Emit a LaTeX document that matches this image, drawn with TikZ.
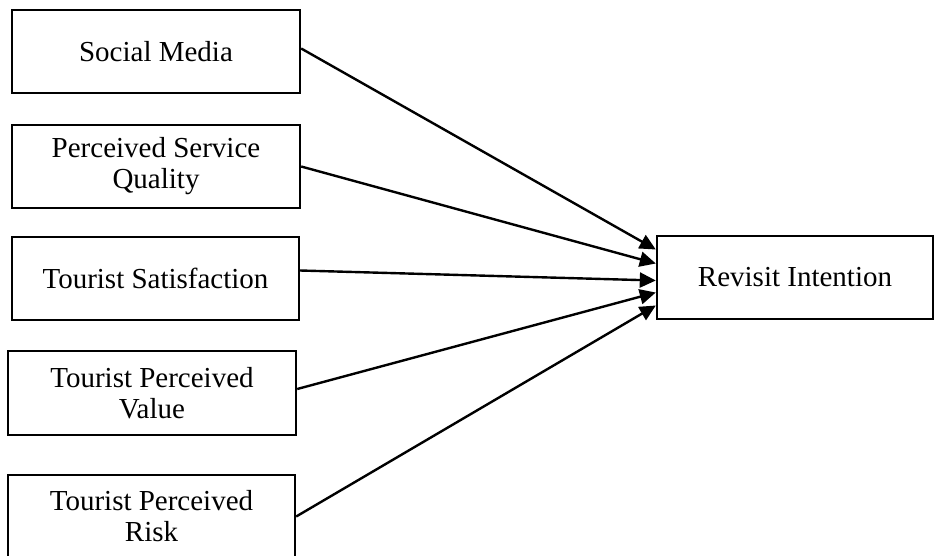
\documentclass[tikz,border=0pt]{standalone}
\usepackage{fontspec}
\setmainfont{Liberation Serif}
\usepackage{tikz}
\usetikzlibrary{arrows.meta}

\tikzset{
  factor/.style={draw, line width=2.4pt, minimum width=288pt, minimum height=83pt,
    inner sep=0pt, align=center, font=\fontsize{29}{31}\selectfont},
  path/.style={line width=2.4pt, -{Triangle[length=16pt,width=15pt]}}
}

\begin{document}
\begin{tikzpicture}[x=1pt, y=-1pt]
            \useasboundingbox (0,0) rectangle (934,555);
            % Predictors
                        \node[factor] (sm)  at (156,51.5)    {Social Media};
                        \node[factor] (psq) at (156,166.5)   {Perceived Service\\Quality};
                        \node[factor, minimum width=287pt] (ts)  at (155.5,278.5) {Tourist Satisfaction};
                        \node[factor, minimum height=84pt] (tpv) at (152,393)     {Tourist Perceived\\Value};
                        \node[factor, minimum width=287pt] (tpr) at (151.5,516.5) {Tourist Perceived\\Risk};
            % Outcome
                        \node[factor, minimum width=276pt] (ri) at (795,277.5) {Revisit Intention};
            % Paths
                        \draw[path] ([yshift=3pt]sm.east)  -- ([yshift=28pt]ri.west);
                        \draw[path] (psq.east) -- ([yshift=14pt]ri.west);
                        \draw[path] ([yshift=8pt]ts.east) -- ([yshift=-3pt]ri.west);
                        \draw[path] ([yshift=4pt]tpv.east) -- ([yshift=-15pt]ri.west);
                        \draw[path] (tpr.east) -- ([yshift=-28pt]ri.west);
        \end{tikzpicture}
\end{document}
